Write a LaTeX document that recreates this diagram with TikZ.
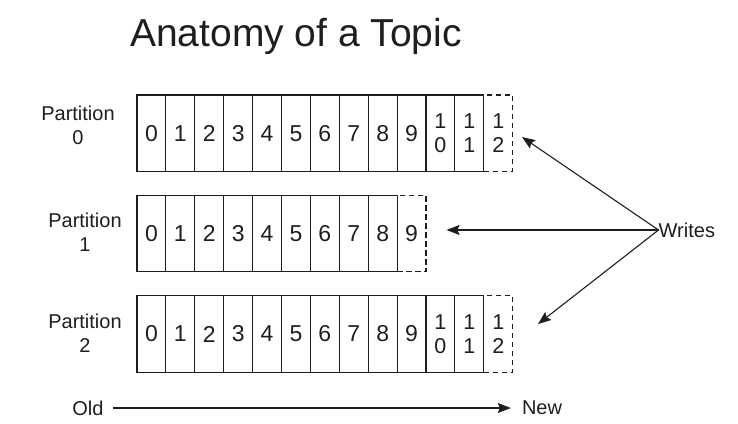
\documentclass[tikz,border=0pt]{standalone}
\usepackage{fontspec}
\setmainfont{Liberation Sans}
\usetikzlibrary{arrows.meta}
\definecolor{ink}{HTML}{1E1E1E}
\tikzset{
  cellbox/.style={draw=ink, line width=1.1pt, minimum width=28.9pt, minimum height=76.5pt,
    inner sep=0pt, outer sep=0pt, text=ink, font=\fontsize{23}{27}\selectfont},
  newcell/.style={cellbox, dashed, dash pattern=on 5.5pt off 3.5pt},
  stack/.style={align=center, font=\fontsize{21.5}{23.5}\selectfont},
  lbl/.style={align=center, text=ink, inner sep=0pt, font=\fontsize{20}{24.3}\selectfont},
  arr/.style={draw=ink, line width=1.1pt, -{Stealth[length=13pt,width=10pt,inset=2pt]}},
}
\begin{document}
\begin{tikzpicture}[x=1pt,y=-1pt]
\useasboundingbox (0,0) rectangle (738,423);
\fill[white] (0,0) rectangle (738,423);
% title
\node[anchor=base, text=ink, inner sep=0pt, font=\fontsize{39}{44}\selectfont] (title) at (296,46.7) {Anatomy of a Topic};
% partition labels
\node[lbl] (p0) at (78,125) {Partition\\0};
\node[lbl] (p1) at (85,232.5) {Partition\\1};
\node[lbl] (p2) at (85,333) {Partition\\2};
% row 0
\node[newcell, stack] (r0c12) at (137+12.5*28.9,133.2) {1\\2};
\foreach \i in {0,...,9} \node[cellbox] (r0c\i) at (137+\i*28.9+14.45,133.2) {\i};
\node[cellbox, stack] (r0c10) at (137+10.5*28.9,133.2) {1\\0};
\node[cellbox, stack] (r0c11) at (137+11.5*28.9,133.2) {1\\1};
% row 1
\node[newcell] (r1c9) at (137+9.5*28.9,233.5) {9};
\foreach \i in {0,...,8} \node[cellbox] (r1c\i) at (137+\i*28.9+14.45,233.5) {\i};
% row 2
\node[newcell, stack] (r2c12) at (137+12.5*28.9,334) {1\\2};
\foreach \i in {0,...,9} \node[cellbox] (r2c\i) at (137+\i*28.9+14.45,334) {\i};
\node[cellbox, stack] (r2c10) at (137+10.5*28.9,334) {1\\0};
\node[cellbox, stack] (r2c11) at (137+11.5*28.9,334) {1\\1};
% writes
\node[lbl, anchor=west] (writes) at (658.5,230) {Writes};
\coordinate (t0) at (522,137);
\coordinate (t1) at (446.5,230);
\coordinate (t2) at (538,324);
\draw[arr] (writes.west) -- (t0);
\draw[arr] (writes.west) -- (t1);
\draw[arr] (writes.west) -- (t2);
% old -> new
\node[lbl] (old) at (88,408) {Old};
\node[lbl] (new) at (542,408) {New};
\draw[arr] ([xshift=9pt]old.east) -- ([xshift=-11pt]new.west);
\end{tikzpicture}
\end{document}
